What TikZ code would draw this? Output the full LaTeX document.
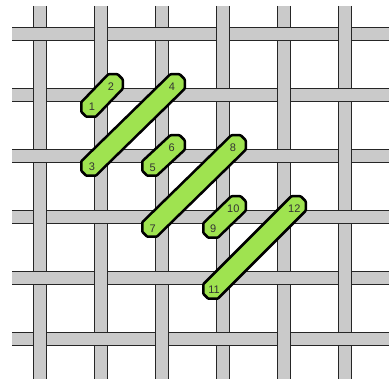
\documentclass[tikz,border=0pt]{standalone}
\usepackage{fontspec}
\setmainfont{Liberation Sans}
\usepackage{tikz}
\usetikzlibrary{calc}

\definecolor{barfill}{HTML}{CACACA}
\definecolor{stitchfill}{HTML}{9FE350}

% one stitch: lower left corner #1, upper right corner #2, label places #3,#4, numbers #5,#6
\newcommand{\stitch}[6]{
  \coordinate (a#5) at (#1);
  \coordinate (b#6) at (#2);
  \draw[stitchline] ($(a#5)+(0,-14.5)$) -- ($(a#5)+(0,-5)$) -- ($(a#5)+(5,0)$) -- ($(a#5)+(14.5,0)$)
    -- ($(b#6)+(0,14.5)$) -- ($(b#6)+(0,5)$) -- ($(b#6)+(-5,0)$) -- ($(b#6)+(-14.5,0)$) -- cycle;
  \node[num] (n#5) at (#3) {#5};
  \node[num] (n#6) at (#4) {#6};
}

\begin{document}
\begin{tikzpicture}[
  x=1pt, y=-1pt,
  edgeline/.style={line width=1.7pt, draw=black!85},
  stitchline/.style={draw=black, fill=stitchfill, line width=2.5pt, line join=round, rounded corners=0.8pt},
  num/.style={inner sep=0pt, font=\fontsize{11}{11}\selectfont, text=black!80}
]
  \useasboundingbox (0,0) rectangle (389,379);

  % vertical threads
  \foreach \x in {40,101,162,223,284,345} {
    \fill[barfill] (\x-6.5,6) rectangle (\x+6.5,379);
    \draw[edgeline] (\x-6.5,6) -- (\x-6.5,379);
    \draw[edgeline] (\x+6.5,6) -- (\x+6.5,379);
  }
  % horizontal threads
  \foreach \y in {34,95,156,217,278,339} {
    \fill[barfill] (12,\y-6.5) rectangle (389,\y+6.5);
    \draw[edgeline] (12,\y-6.5) -- (389,\y-6.5);
    \draw[edgeline] (12,\y+6.5) -- (389,\y+6.5);
  }
  % weave: vertical on top at every other crossing
  \foreach \i in {0,...,5} {
    \foreach \j in {0,...,5} {
      \pgfmathtruncatemacro{\odd}{mod(\i+\j,2)}
      \ifnum\odd=1
        \pgfmathsetmacro{\x}{40+61*\i}
        \pgfmathsetmacro{\y}{34+61*\j}
        \fill[barfill] (\x-6.5,\y-7.5) rectangle (\x+6.5,\y+7.5);
        \draw[edgeline] (\x-6.5,\y-7.5) -- (\x-6.5,\y+7.5);
        \draw[edgeline] (\x+6.5,\y-7.5) -- (\x+6.5,\y+7.5);
      \fi
    }
  }

  % stitches
  \stitch{81.25,116.75}{122.75,74.25}{92,107}{111,87}{1}{2}
  \stitch{81.25,175.75}{184.75,74.25}{92,167}{172,87}{3}{4}
  \stitch{142.25,175.75}{184.75,135.25}{152.7,167.5}{171.7,147.5}{5}{6}
  \stitch{142.25,236.75}{245.75,135.25}{152.7,229}{233,148}{7}{8}
  \stitch{203.25,237.75}{245.75,196.25}{213.3,228.5}{233.3,209}{9}{10}
  \stitch{203.25,298.75}{305.75,196.25}{214,289.5}{294.3,209}{11}{12}
\end{tikzpicture}
\end{document}
